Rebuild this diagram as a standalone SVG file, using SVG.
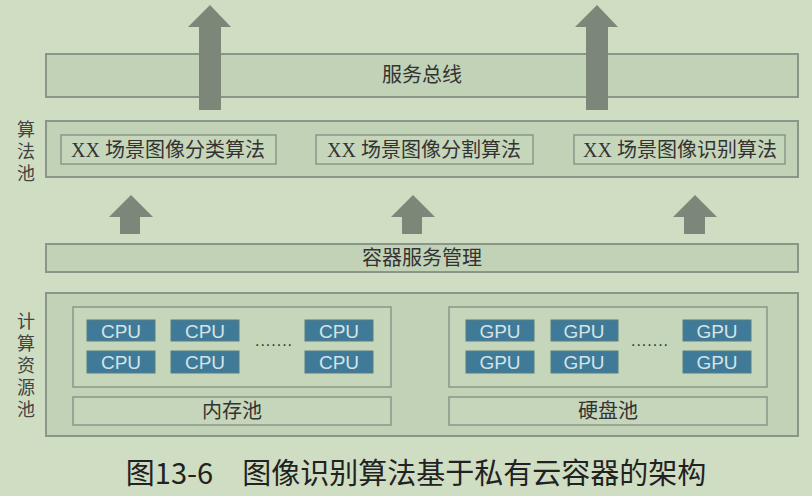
<svg xmlns="http://www.w3.org/2000/svg" width="812" height="496" viewBox="0 0 812 496">
<style>
.bg{fill:#cfdec3}
.box{fill:#c2d2b7;stroke:#8b968a;stroke-width:2}
.in{fill:#c6d6bb;stroke:#8b968a;stroke-width:1.5}
.chip{fill:#3f7b99;stroke:#5a7c80;stroke-width:1}
.t{font-family:"Liberation Serif","Noto Sans CJK SC",serif;font-size:20px;fill:#333;text-anchor:middle}
.lab{font-family:"Liberation Serif","Noto Sans CJK SC",serif;font-size:18px;fill:#444;text-anchor:middle}
.ct{font-family:"Liberation Sans",sans-serif;font-size:19px;fill:#d5e3e6;text-anchor:middle}
.arr{fill:#7c877a}
.dots{font-family:"Liberation Sans",sans-serif;font-size:16px;fill:#333;text-anchor:middle;letter-spacing:1px}
</style>
<rect class="bg" width="812" height="496"/>
<g id="bus"><rect class="box" x="46" y="54" width="752" height="43"/><text class="t" x="422" y="82">服务总线</text></g>
<g id="algpool">
<rect class="box" x="46" y="121" width="752" height="56"/>
<rect class="in" x="61" y="135" width="215" height="29"/><text class="t" x="168" y="157">XX 场景图像分类算法</text>
<rect class="in" x="316" y="135" width="217" height="29"/><text class="t" x="424" y="157">XX 场景图像分割算法</text>
<rect class="in" x="574" y="135" width="211" height="29"/><text class="t" x="680" y="157">XX 场景图像识别算法</text>
</g>
<g id="labels">
<text class="lab" x="26" y="136">算</text><text class="lab" x="26" y="158">法</text><text class="lab" x="26" y="180">池</text>
<text class="lab" x="26" y="328">计</text><text class="lab" x="26" y="350">算</text><text class="lab" x="26" y="372">资</text><text class="lab" x="26" y="394">源</text><text class="lab" x="26" y="416">池</text>
</g>
<g id="container"><rect class="box" x="46" y="244" width="752" height="28"/><text class="t" x="422" y="265">容器服务管理</text></g>
<g id="compute">
<rect class="box" x="46" y="293" width="752" height="143"/>
<rect class="in" x="73" y="307" width="318" height="80"/>
<rect class="in" x="73" y="397" width="318" height="28"/><text class="t" x="232" y="418">内存池</text>
<rect class="in" x="449" y="307" width="318" height="80"/>
<rect class="in" x="449" y="397" width="318" height="28"/><text class="t" x="608" y="418">硬盘池</text>
<rect class="chip" x="87" y="320" width="68" height="21"/><text class="ct" x="121" y="338">CPU</text>
<rect class="chip" x="171" y="320" width="68" height="21"/><text class="ct" x="205" y="338">CPU</text>
<rect class="chip" x="305" y="320" width="68" height="21"/><text class="ct" x="339" y="338">CPU</text>
<rect class="chip" x="87" y="351" width="68" height="22"/><text class="ct" x="121" y="369">CPU</text>
<rect class="chip" x="171" y="351" width="68" height="22"/><text class="ct" x="205" y="369">CPU</text>
<rect class="chip" x="305" y="351" width="68" height="22"/><text class="ct" x="339" y="369">CPU</text>
<text class="dots" x="274" y="346">.......</text>
<rect class="chip" x="466" y="320" width="68" height="21"/><text class="ct" x="500" y="338">GPU</text>
<rect class="chip" x="551" y="320" width="67" height="21"/><text class="ct" x="584" y="338">GPU</text>
<rect class="chip" x="683" y="320" width="68" height="21"/><text class="ct" x="717" y="338">GPU</text>
<rect class="chip" x="466" y="351" width="68" height="22"/><text class="ct" x="500" y="369">GPU</text>
<rect class="chip" x="551" y="351" width="67" height="22"/><text class="ct" x="584" y="369">GPU</text>
<rect class="chip" x="683" y="351" width="68" height="22"/><text class="ct" x="717" y="369">GPU</text>
<text class="dots" x="650" y="346">.......</text>
</g>
<g id="connectors">
<polygon class="arr" points="199,110 199,27 188,27 210,5 231,27 221,27 221,110"/>
<polygon class="arr" points="586,110 586,27 575,27 597,5 618,27 608,27 608,110"/>
<polygon class="arr" points="120,234 120,217 109,217 131,195 153,217 140,217 140,234"/>
<polygon class="arr" points="402,234 402,217 391,217 413,195 435,217 422,217 422,234"/>
<polygon class="arr" points="684,234 684,217 673,217 695,195 717,217 705,217 705,234"/>
</g>
<text x="416" y="484" style="font-family:'Noto Sans CJK SC',sans-serif;font-size:29px;fill:#222;text-anchor:middle">图13-6　图像识别算法基于私有云容器的架构</text>
</svg>
